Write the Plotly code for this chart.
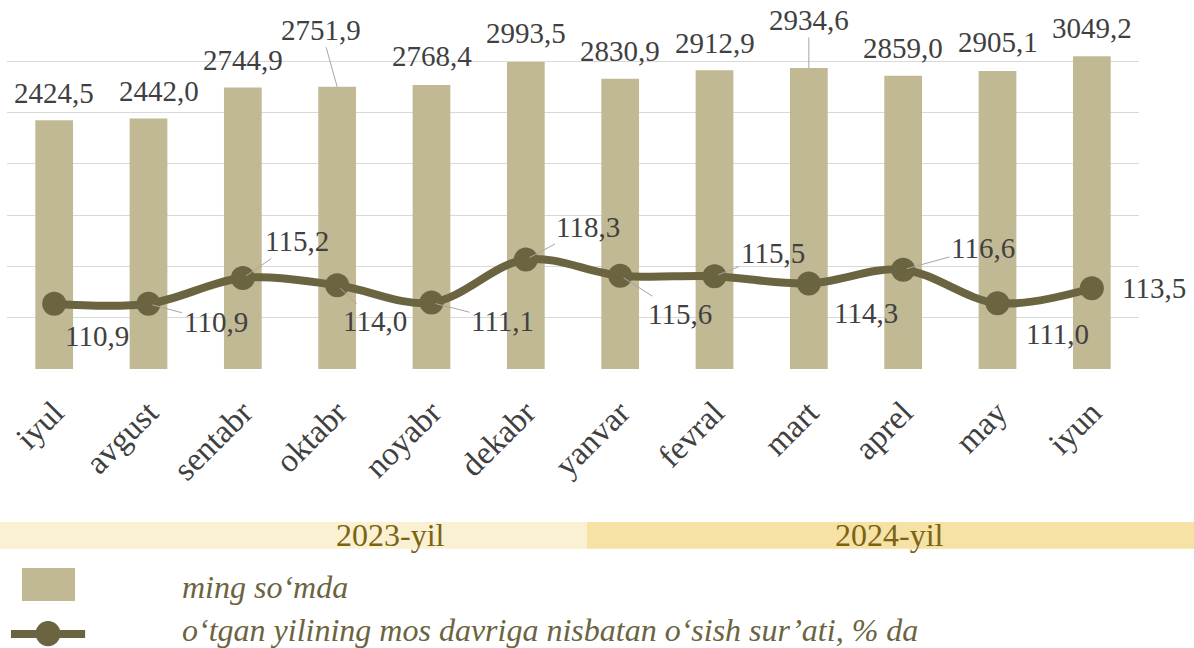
import plotly.graph_objects as go

months = ["iyul", "avgust", "sentabr", "oktabr", "noyabr", "dekabr",
          "yanvar", "fevral", "mart", "aprel", "may", "iyun"]
wages = [2424.5, 2442.0, 2744.9, 2751.9, 2768.4, 2993.5,
         2830.9, 2912.9, 2934.6, 2859.0, 2905.1, 3049.2]
growth = [110.9, 110.9, 115.2, 114.0, 111.1, 118.3,
          115.6, 115.5, 114.3, 116.6, 111.0, 113.5]
years = ["2023-yil", "2024-yil"]
legend_names = ["ming so‘mda", "o‘tgan yilining mos davriga nisbatan o‘sish sur’ati, % da"]

# label offsets (pixels): (dx, dy, leader)
bar_lbl = [(0, -27, False), (10, -28, False), (0, -27, False), (-16, -57, True),
           (0, -29, False), (0, -29, False), (0, -28, False), (0, -27, False),
           (0, -48, True), (0, -28, False), (0, -29, False), (0, -28, False)]
line_lbl = [(43, 32, False), (67, 18, True), (54, -37, True), (38, 36, True),
            (71, 18, True), (62, -33, True), (60, 38, True), (58, -23, True),
            (57, 30, False), (80, -22, True), (60, 31, False), (62, 0, False)]

BAR = "#c1b894"
LINE = "#6b6440"
TXT = "#404040"
FONT = "Liberation Serif"

def fmt(v):
    return f"{v:.1f}".replace(".", ",")

fig = go.Figure()
fig.add_trace(go.Bar(x=months, y=wages, marker=dict(color=BAR, line=dict(width=0)),
                     name=legend_names[0], showlegend=False))
fig.add_trace(go.Scatter(x=months, y=growth, yaxis="y2", mode="lines+markers",
                         line=dict(color=LINE, width=8, shape="spline", smoothing=1.0),
                         marker=dict(color=LINE, size=24),
                         name=legend_names[1], showlegend=False))

ann = []
for m, v, (dx, dy, lead) in zip(months, wages, bar_lbl):
    ann.append(dict(x=m, y=v, xref="x", yref="y", text=fmt(v), showarrow=True,
                    ax=dx, ay=dy, arrowhead=0, arrowwidth=1,
                    arrowcolor="#a6a6a6" if lead else "rgba(0,0,0,0)",
                    font=dict(family=FONT, size=29, color=TXT)))
for m, v, (dx, dy, lead) in zip(months, growth, line_lbl):
    ann.append(dict(x=m, y=v, xref="x", yref="y2", text=fmt(v), showarrow=True,
                    ax=dx, ay=dy, arrowhead=0, arrowwidth=1, standoff=4,
                    arrowcolor="#a6a6a6" if lead else "rgba(0,0,0,0)",
                    font=dict(family=FONT, size=29, color=TXT)))

# year band labels
ann.append(dict(x=0.339, y=-0.462, xref="paper", yref="paper", xanchor="center", yanchor="middle",
                text=years[0], showarrow=False, font=dict(family=FONT, size=32, color="#7a6414")))
ann.append(dict(x=0.780, y=-0.462, xref="paper", yref="paper", xanchor="center", yanchor="middle",
                text=years[1], showarrow=False, font=dict(family=FONT, size=32, color="#7a6414")))
# legend texts
ann.append(dict(x=0.1528, y=-0.607, xref="paper", yref="paper", xanchor="left", yanchor="middle",
                text=f"<i>{legend_names[0]}</i>",
                showarrow=False, font=dict(family=FONT, size=32, color=LINE)))
ann.append(dict(x=0.1528, y=-0.727, xref="paper", yref="paper", xanchor="left", yanchor="middle",
                text=f"<i>{legend_names[1]}</i>",
                showarrow=False, font=dict(family=FONT, size=32, color=LINE)))

shapes = [
    dict(type="rect", xref="paper", yref="paper", x0=-0.0062, x1=0.5124, y0=-0.501, y1=-0.426,
         fillcolor="#faf0d2", line=dict(width=0), layer="below"),
    dict(type="rect", xref="paper", yref="paper", x0=0.5124, x1=1.0486, y0=-0.501, y1=-0.426,
         fillcolor="#f5e2a4", line=dict(width=0), layer="below"),
    dict(type="rect", xref="paper", yref="paper", x0=0.01325, x1=0.0601, y0=-0.646, y1=-0.554,
         fillcolor=BAR, line=dict(width=0)),
    dict(type="line", xref="paper", yref="paper", x0=0.0035, x1=0.0690, y0=-0.738, y1=-0.738,
         line=dict(color=LINE, width=8)),
    dict(type="circle", xref="paper", yref="paper", x0=0.0252, x1=0.0473, y0=-0.772, y1=-0.702,
         fillcolor=LINE, line=dict(width=0)),
]

fig.update_layout(
    width=1194, height=648,
    margin=dict(l=7, r=55, t=10, b=279),
    plot_bgcolor="white", paper_bgcolor="white",
    bargap=0.6, showlegend=False,
    xaxis=dict(range=[-0.5, 11.5], autorange=False, tickangle=-45,
               tickfont=dict(family=FONT, size=33, color=TXT),
               ticks="outside", ticklen=10, tickcolor="rgba(0,0,0,0)",
               showline=False, showgrid=False),
    yaxis=dict(range=[0, 3500], dtick=500, showgrid=True, gridcolor="#d9d9d9", gridwidth=1.3,
               showticklabels=False, zeroline=False, showline=False),
    yaxis2=dict(range=[100, 160], overlaying="y", side="right", showgrid=False,
                showticklabels=False, zeroline=False, showline=False),
    annotations=ann, shapes=shapes,
)

fig.write_html("out.html", config={"displayModeBar": False},
               post_script="document.body.style.margin='0';document.body.style.overflow='hidden';")
